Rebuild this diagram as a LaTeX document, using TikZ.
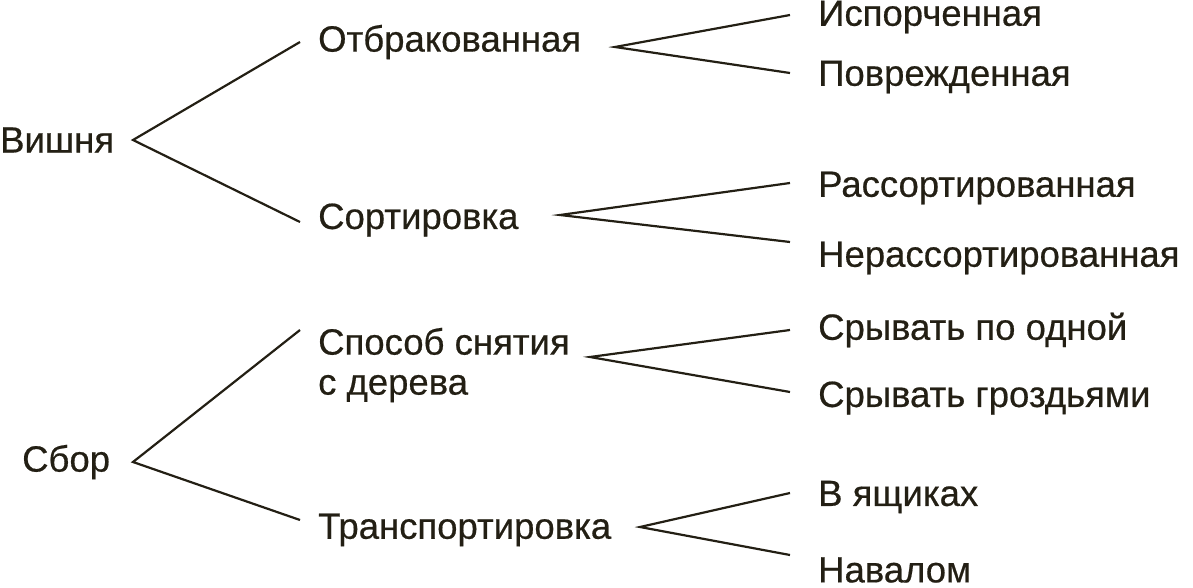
\documentclass[tikz,border=0pt]{standalone}
\usepackage{fontspec}
\setmainfont{Liberation Sans}
\newfontfamily\lblfont[FakeBold=0.5]{Liberation Sans}
\begin{document}
\begin{tikzpicture}[x=1pt,y=-1pt,
  lbl/.style={anchor=west,inner sep=0pt,font=\lblfont\fontsize{36.5}{40}\selectfont,text=txt},
  ln/.style={draw=txt,line width=2.2pt}]
\definecolor{txt}{HTML}{231F14}
\useasboundingbox (0,0) rectangle (1193,588);
\node[lbl] (v) at (0,140) {Вишня};
\node[lbl] (o) at (318,42) {Отбракованная};
\node[lbl] (i) at (818,17) {Испорченная};
\node[lbl] (p) at (818,77) {Поврежденная};
\node[lbl] (s) at (318,220) {Сортировка};
\node[lbl] (r) at (818,188) {Рассортированная};
\node[lbl] (n) at (818,258) {Нерассортированная};
\node[lbl] (b) at (22,462) {Сбор};
\node[lbl,align=left] (sp) at (318,365) {Способ снятия\\[0pt]с дерева};
\node[lbl] (s1) at (818,330) {Срывать по одной};
\node[lbl] (s2) at (818,398) {Срывать гроздьями};
\node[lbl] (t) at (318,530) {Транспортировка};
\node[lbl] (ya) at (818,497) {В ящиках};
\node[lbl] (na) at (818,570) {Навалом};
\coordinate (fv) at (133,140); \coordinate (fv1) at (300,42); \coordinate (fv2) at (300,222);
\coordinate (fo) at (615,47); \coordinate (fo1) at (790,15); \coordinate (fo2) at (790,73);
\coordinate (fs) at (560,215); \coordinate (fs1) at (790,183); \coordinate (fs2) at (790,242);
\coordinate (fb) at (133,462); \coordinate (fb1) at (300,330); \coordinate (fb2) at (300,520);
\coordinate (fp) at (590,357); \coordinate (fp1) at (790,330); \coordinate (fp2) at (790,392);
\coordinate (ft) at (640,527); \coordinate (ft1) at (790,493); \coordinate (ft2) at (790,555);
\draw[ln] (fv1) -- (fv) -- (fv2);
\draw[ln] (fo1) -- (fo) -- (fo2);
\draw[ln] (fs1) -- (fs) -- (fs2);
\draw[ln] (fb1) -- (fb) -- (fb2);
\draw[ln] (fp1) -- (fp) -- (fp2);
\draw[ln] (ft1) -- (ft) -- (ft2);
\end{tikzpicture}
\end{document}
